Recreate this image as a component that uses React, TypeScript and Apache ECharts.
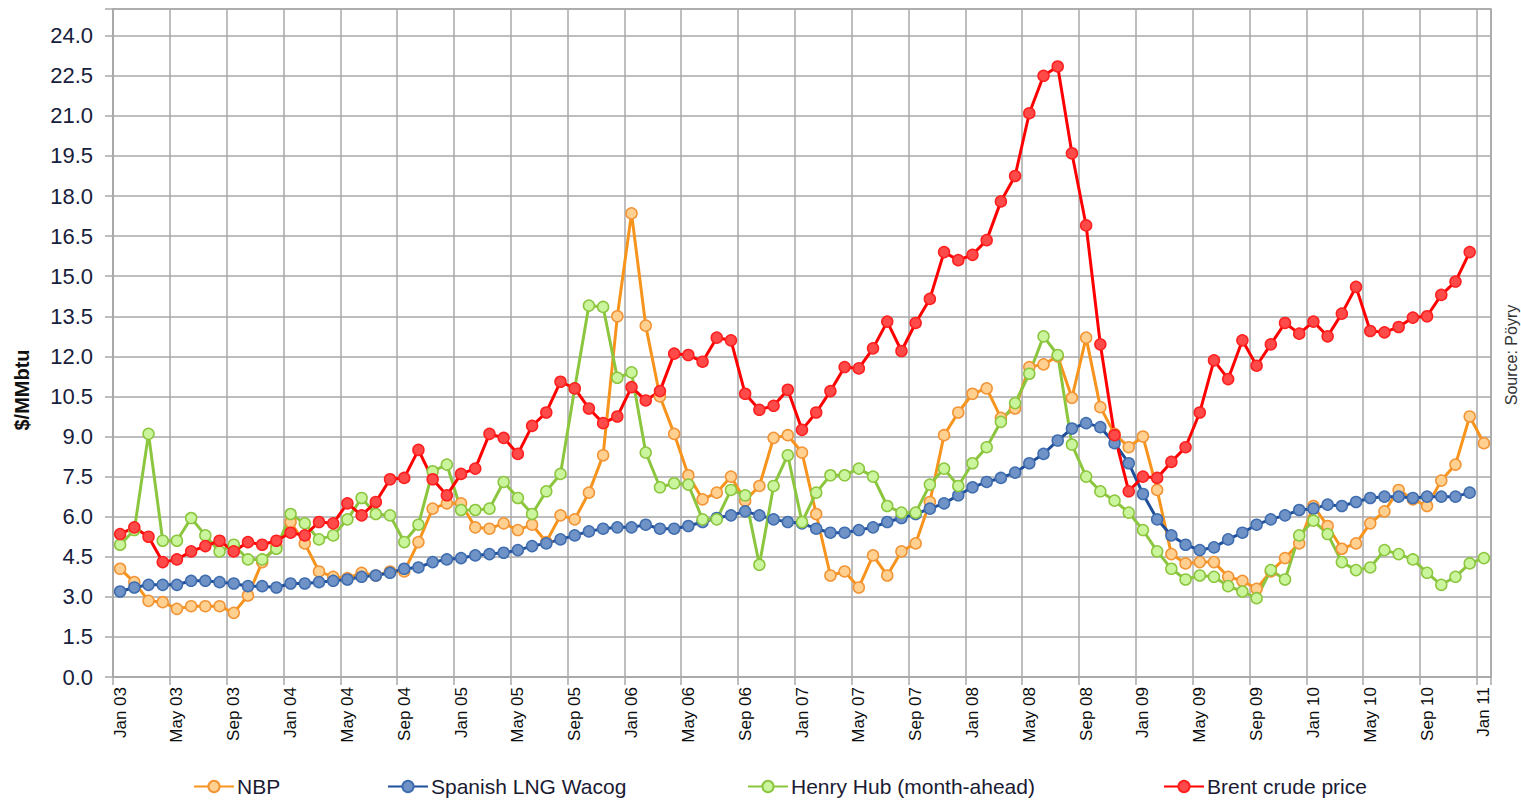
import React, { useEffect, useRef } from "react";
import * as echarts from "echarts";

const MONTHS = ["Jan", "Feb", "Mar", "Apr", "May", "Jun", "Jul", "Aug", "Sep", "Oct", "Nov", "Dec"];
const YEARS = ["03", "04", "05", "06", "07", "08", "09", "10", "11"];
const categories: string[] = [];
YEARS.forEach((y) => MONTHS.forEach((m) => categories.push(m + " " + y)));
categories.length = 97; // Jan 03 .. Jan 11

const NBP = [
  4.05, 3.55, 2.85, 2.8, 2.55, 2.65, 2.65, 2.65, 2.4, 3.05, 4.3, 4.9,
  5.8, 5.0, 3.95, 3.75, 3.7, 3.9, 3.8, 3.95, 3.95, 5.05, 6.3, 6.5,
  6.5, 5.6, 5.55, 5.75, 5.5, 5.7, 5.05, 6.05, 5.9, 6.9, 8.3, 13.5,
  17.35, 13.15, 10.5, 9.1, 7.55, 6.65, 6.9, 7.5, 6.6, 7.15, 8.95, 9.05,
  8.4, 6.1, 3.8, 3.95, 3.35, 4.55, 3.8, 4.7, 5.0, 6.55, 9.05, 9.9,
  10.6, 10.8, 9.7, 10.05, 11.6, 11.7, 12.0, 10.45, 12.7, 10.1, 9.1, 8.6,
  9.0, 7.0, 4.6, 4.25, 4.3, 4.3, 3.75, 3.6, 3.3, 3.95, 4.45, 5.0,
  6.4, 5.65, 4.8, 5.0, 5.75, 6.2, 7.0, 6.65, 6.4, 7.35, 7.95, 9.75,
  8.75,
];

const SPANISH_LNG = [
  3.2, 3.35, 3.45, 3.45, 3.45, 3.6, 3.6, 3.55, 3.5, 3.4, 3.4, 3.35,
  3.5, 3.5, 3.55, 3.6, 3.65, 3.75, 3.8, 3.9, 4.05, 4.1, 4.3, 4.4,
  4.45, 4.55, 4.6, 4.65, 4.75, 4.9, 5.0, 5.15, 5.3, 5.45, 5.55, 5.6,
  5.6, 5.7, 5.55, 5.55, 5.65, 5.8, 5.95, 6.05, 6.2, 6.05, 5.9, 5.8,
  5.75, 5.55, 5.4, 5.4, 5.5, 5.6, 5.8, 5.95, 6.1, 6.3, 6.5, 6.8,
  7.1, 7.3, 7.45, 7.65, 8.0, 8.35, 8.85, 9.3, 9.5, 9.35, 8.75, 8.0,
  6.85, 5.9, 5.3, 4.95, 4.75, 4.85, 5.15, 5.4, 5.7, 5.9, 6.05, 6.25,
  6.3, 6.45, 6.4, 6.55, 6.7, 6.75, 6.75, 6.7, 6.75, 6.75, 6.75, 6.9,
  null,
];

const HENRY_HUB = [
  4.95, 5.5, 9.1, 5.1, 5.1, 5.95, 5.3, 4.7, 4.95, 4.4, 4.4, 4.8,
  6.1, 5.75, 5.15, 5.3, 5.9, 6.7, 6.1, 6.05, 5.05, 5.7, 7.7, 7.95,
  6.25, 6.25, 6.3, 7.3, 6.7, 6.1, 6.95, 7.6, 10.8, 13.9, 13.85, 11.2,
  11.4, 8.4, 7.1, 7.25, 7.2, 5.9, 5.9, 7.0, 6.8, 4.2, 7.15, 8.3,
  5.8, 6.9, 7.55, 7.55, 7.8, 7.5, 6.4, 6.15, 6.15, 7.2, 7.8, 7.15,
  8.0, 8.6, 9.55, 10.25, 11.35, 12.75, 12.05, 8.7, 7.5, 6.95, 6.6, 6.15,
  5.5, 4.7, 4.05, 3.65, 3.8, 3.75, 3.4, 3.2, 2.95, 4.0, 3.65, 5.3,
  5.85, 5.35, 4.3, 4.0, 4.1, 4.75, 4.6, 4.4, 3.9, 3.45, 3.75, 4.25,
  4.45,
];

const BRENT = [
  5.35, 5.6, 5.25, 4.3, 4.4, 4.7, 4.9, 5.1, 4.7, 5.05, 4.95, 5.1,
  5.4, 5.3, 5.8, 5.75, 6.5, 6.05, 6.55, 7.4, 7.45, 8.5, 7.4, 6.8,
  7.6, 7.8, 9.1, 8.95, 8.35, 9.4, 9.9, 11.05, 10.8, 10.05, 9.5, 9.75,
  10.85, 10.35, 10.7, 12.1, 12.05, 11.8, 12.7, 12.6, 10.6, 10.0, 10.15, 10.75,
  9.25, 9.9, 10.7, 11.6, 11.55, 12.3, 13.3, 12.2, 13.25, 14.15, 15.9, 15.6,
  15.8, 16.35, 17.8, 18.75, 21.1, 22.5, 22.85, 19.6, 16.9, 12.45, 9.05, 6.95,
  7.5, 7.45, 8.05, 8.6, 9.9, 11.85, 11.15, 12.6, 11.65, 12.45, 13.25, 12.85,
  13.3, 12.75, 13.6, 14.6, 12.95, 12.9, 13.1, 13.45, 13.5, 14.3, 14.8, 15.9,
  null,
];

const SERIES_NAMES = ["NBP", "Spanish LNG Wacog", "Henry Hub (month-ahead)", "Brent crude price"];

const FONT = "'Liberation Sans', Arial, sans-serif";
const GRID_COLOR = "#a8a8a8";

export default function App() {
  const ref = useRef<HTMLDivElement>(null);

  useEffect(() => {
    if (!ref.current) return;
    const chart = echarts.init(ref.current, undefined, { renderer: "svg" });

    const mk = (name: string, data: (number | null)[], line: string, fill: string, border: string) => ({
      name,
      type: "line",
      data,
      symbol: "circle",
      symbolSize: 11,
      showSymbol: true,
      showAllSymbol: true,
      lineStyle: { color: line, width: 3 },
      itemStyle: { color: fill, borderColor: border, borderWidth: 1.5 },
      emphasis: { disabled: true },
    });

    const legendPos = [188, 382, 742, 1158];

    chart.setOption({
      animation: false,
      backgroundColor: "#ffffff",
      grid: {
        left: 113,
        right: 30,
        top: 9,
        bottom: 123,
        show: true,
        borderColor: GRID_COLOR,
        borderWidth: 1.5,
      },
      legend: SERIES_NAMES.map((n, i) => ({
        data: [n],
        left: legendPos[i],
        top: 771,
        itemWidth: 40,
        itemHeight: 14,
        itemGap: 3,
        textStyle: { fontFamily: FONT, fontSize: 21, color: "#1a1a33", padding: [0, 0, 0, -2] },
        selectedMode: false,
      })),
      xAxis: {
        type: "category",
        data: categories,
        boundaryGap: true,
        axisLine: { lineStyle: { color: GRID_COLOR, width: 1.5 } },
        axisTick: { show: true, interval: 3, length: 8, lineStyle: { color: GRID_COLOR, width: 1.5 } },
        axisLabel: {
          interval: 3,
          rotate: 90,
          margin: 10,
          fontFamily: FONT,
          fontSize: 17,
          color: "#0d0d0d",
        },
        splitLine: { show: true, interval: 3, lineStyle: { color: GRID_COLOR, width: 1.5 } },
      },
      yAxis: {
        type: "value",
        min: 0,
        max: 25,
        interval: 1.5,
        axisLine: { show: true, lineStyle: { color: GRID_COLOR, width: 1.5 } },
        axisTick: { show: true, length: 8, lineStyle: { color: GRID_COLOR, width: 1.5 } },
        axisLabel: {
          margin: 20,
          fontFamily: FONT,
          fontSize: 22,
          color: "#17203d",
          formatter: (v: number) => (v > 24.01 ? "" : v.toFixed(1)),
        },
        splitLine: { show: true, lineStyle: { color: GRID_COLOR, width: 1.5 } },
      },
      graphic: [
        {
          type: "text",
          x: 22,
          y: 390,
          rotation: Math.PI / 2,
          style: {
            text: "$/MMbtu",
            fontFamily: FONT,
            fontSize: 20,
            fontWeight: "bold",
            fill: "#111111",
            align: "center",
            verticalAlign: "middle",
          },
        },
        {
          type: "text",
          x: 1511,
          y: 355,
          rotation: Math.PI / 2,
          style: {
            text: "Source: Pöyry",
            fontFamily: FONT,
            fontSize: 16,
            fill: "#333333",
            align: "center",
            verticalAlign: "middle",
          },
        },
      ],
      series: [
        mk(SERIES_NAMES[0], NBP, "#f7941d", "#ffd08f", "#f29435"),
        mk(SERIES_NAMES[1], SPANISH_LNG, "#1f4e9a", "#6f93c6", "#3f6db0"),
        mk(SERIES_NAMES[2], HENRY_HUB, "#8cc63e", "#caf59d", "#8cc63e"),
        mk(SERIES_NAMES[3], BRENT, "#ff0000", "#ff4a4a", "#ff2020"),
      ],
    });

    return () => chart.dispose();
  }, []);

  return <div ref={ref} style={{ width: 1521, height: 800, position: "absolute", left: 0, top: 0 }} />;
}
